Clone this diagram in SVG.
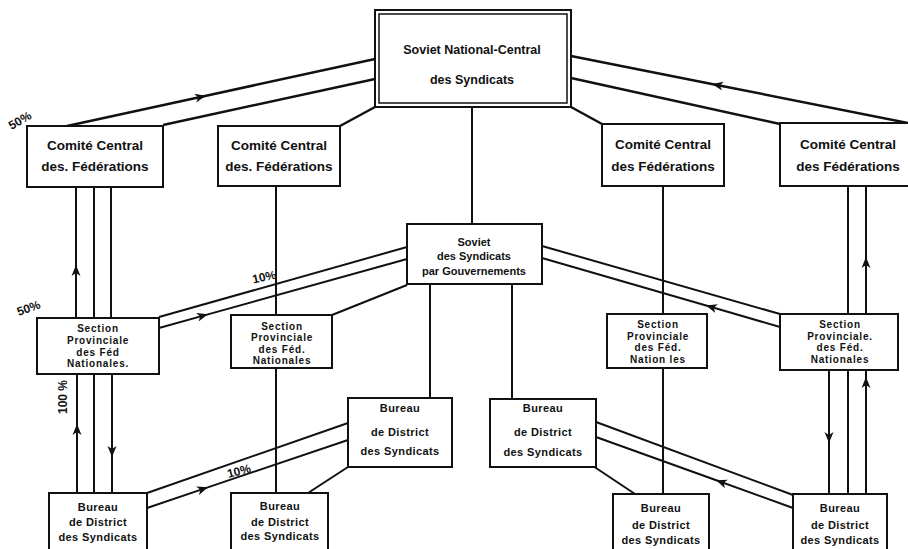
<svg xmlns="http://www.w3.org/2000/svg" width="908" height="549" viewBox="0 0 908 549">
<defs>
<style>
.box{fill:#fff;stroke:#111;stroke-width:2}
.ln{fill:none;stroke:#111;stroke-width:2}
.lt{fill:none;stroke:#111;stroke-width:2.5}
text{font-family:"Liberation Sans",Arial,sans-serif;font-weight:bold;fill:#111;text-anchor:middle}
.t1{font-size:12.5px}
.t2{font-size:13.5px}
.t3{font-size:11px}
.t4{font-size:10px;letter-spacing:0.8px}
.t5{font-size:11px;letter-spacing:0.4px}
.pc{font-size:12px}
</style>
<marker id="ah" markerUnits="userSpaceOnUse" markerWidth="14" markerHeight="10" refX="10" refY="5" orient="auto" viewBox="0 0 14 10">
<path d="M0,0.5 L11,5 L0,9.5 L3,5 z" fill="#111"/>
</marker>
</defs>
<rect width="908" height="549" fill="#fff"/>

<g id="connectors">
<!-- top level -->
<polyline class="lt" points="67,126 205,96 375,59" marker-mid="url(#ah)"/>
<line class="lt" x1="163" y1="125" x2="375" y2="79"/>
<line class="lt" x1="375" y1="107" x2="340" y2="126"/>
<polyline class="lt" points="908,123 713,84.2 571,56" marker-mid="url(#ah)"/>
<line class="lt" x1="571" y1="78" x2="780" y2="124"/>
<line class="lt" x1="571" y1="107" x2="602" y2="124"/>
<line class="ln" x1="472" y1="107" x2="472" y2="224"/>
<!-- left column -->
<polyline class="ln" points="76,318 76,266 76,187" marker-mid="url(#ah)"/>
<line class="ln" x1="94" y1="187" x2="94" y2="318"/>
<line class="ln" x1="111" y1="187" x2="111" y2="318"/>
<polyline class="ln" points="77,493 77,425 77,374" marker-mid="url(#ah)"/>
<line class="ln" x1="94" y1="374" x2="94" y2="493"/>
<polyline class="ln" points="112,374 112,456 112,493" marker-mid="url(#ah)"/>
<!-- section 1 to soviet gouv -->
<line class="ln" x1="159" y1="317" x2="407" y2="247"/>
<polyline class="ln" points="159,328 207,314.6 407,259" marker-mid="url(#ah)"/>
<line class="ln" x1="407" y1="285" x2="332" y2="315"/>
<!-- column 2 -->
<line class="ln" x1="276" y1="186" x2="276" y2="315"/>
<line class="ln" x1="276" y1="368" x2="276" y2="493"/>
<!-- soviet gouv down -->
<line class="ln" x1="430" y1="284" x2="430" y2="398"/>
<line class="ln" x1="512" y1="284" x2="512" y2="399"/>
<!-- soviet gouv to section 4 -->
<line class="ln" x1="542" y1="246" x2="780" y2="314"/>
<polyline class="ln" points="780,327 707,305.8 542,258" marker-mid="url(#ah)"/>
<!-- column 3 -->
<line class="ln" x1="663" y1="186" x2="663" y2="314"/>
<line class="ln" x1="663" y1="368" x2="663" y2="494"/>
<!-- right column -->
<line class="ln" x1="848" y1="186" x2="848" y2="314"/>
<polyline class="ln" points="866,314 866,258 866,186" marker-mid="url(#ah)"/>
<polyline class="ln" points="829,370 829,442 829,494" marker-mid="url(#ah)"/>
<line class="ln" x1="848" y1="370" x2="848" y2="494"/>
<polyline class="ln" points="866,494 866,378 866,370" marker-mid="url(#ah)"/>
<!-- bureau mid left to bureau 1 / 2 -->
<line class="ln" x1="147" y1="493" x2="348" y2="423"/>
<polyline class="ln" points="147,508 207,487.6 348,440" marker-mid="url(#ah)"/>
<line class="ln" x1="348" y1="467" x2="308" y2="493"/>
<!-- bureau mid right to bureau 3 / 4 -->
<line class="ln" x1="596" y1="422" x2="793" y2="495"/>
<polyline class="ln" points="793,508 717,480.5 596,437" marker-mid="url(#ah)"/>
<line class="ln" x1="593" y1="466" x2="635" y2="494"/>
</g>

<g id="labels">
<text class="pc" transform="translate(22,124) rotate(-30)">50%</text>
<text class="pc" transform="translate(30,312) rotate(-20)">50%</text>
<text class="pc" transform="translate(67,397) rotate(-90)">100 %</text>
<text class="pc" transform="translate(265,281) rotate(-12)">10%</text>
<text class="pc" transform="translate(240,475) rotate(-15)">10%</text>
</g>

<g id="soviet-national">
<rect x="375" y="10" width="196" height="97" fill="#fff" stroke="#111" stroke-width="2"/>
<rect x="379" y="14" width="188" height="89" fill="none" stroke="#111" stroke-width="1.5"/>
<text class="t1" x="472" y="54">Soviet National-Central</text>
<text class="t1" x="472" y="84">des Syndicats</text>
</g>

<g id="comite1">
<rect class="box" x="27" y="126" width="136" height="61"/>
<text class="t2" x="95" y="150">Comité Central</text>
<text class="t2" x="95" y="171">des. Fédérations</text>
</g>
<g id="comite2">
<rect class="box" x="218" y="126" width="122" height="60"/>
<text class="t2" x="279" y="150">Comité Central</text>
<text class="t2" x="279" y="171">des. Fédérations</text>
</g>
<g id="comite3">
<rect class="box" x="602" y="124" width="122" height="62"/>
<text class="t2" x="663" y="149">Comité Central</text>
<text class="t2" x="663" y="171">des Fédérations</text>
</g>
<g id="comite4">
<rect class="box" x="780" y="123" width="136" height="63"/>
<text class="t2" x="848" y="149">Comité Central</text>
<text class="t2" x="848" y="171">des Fédérations</text>
</g>

<g id="soviet-gouv">
<rect class="box" x="407" y="224" width="135" height="60"/>
<text class="t3" x="474" y="246">Soviet</text>
<text class="t3" x="474" y="260">des Syndicats</text>
<text class="t3" x="474" y="275">par Gouvernements</text>
</g>

<g id="section1">
<rect class="box" x="37" y="318" width="122" height="56"/>
<text class="t4" x="98" y="332">Section</text>
<text class="t4" x="98" y="344">Provinciale</text>
<text class="t4" x="98" y="356">des Féd</text>
<text class="t4" x="98" y="367">Nationales.</text>
</g>
<g id="section2">
<rect class="box" x="231" y="315" width="101" height="53"/>
<text class="t4" x="282" y="330">Section</text>
<text class="t4" x="282" y="341">Provinciale</text>
<text class="t4" x="282" y="353">des Féd.</text>
<text class="t4" x="282" y="364">Nationales</text>
</g>
<g id="section3">
<rect class="box" x="607" y="314" width="100" height="54"/>
<text class="t4" x="658" y="328">Section</text>
<text class="t4" x="658" y="340">Provinciale</text>
<text class="t4" x="658" y="351">des Féd.</text>
<text class="t4" x="658" y="363">Nation les</text>
</g>
<g id="section4">
<rect class="box" x="780" y="314" width="118" height="56"/>
<text class="t4" x="840" y="328">Section</text>
<text class="t4" x="840" y="340">Provinciale.</text>
<text class="t4" x="840" y="351">des Féd.</text>
<text class="t4" x="840" y="363">Nationales</text>
</g>

<g id="bureau-mid-left">
<rect class="box" x="348" y="398" width="104" height="69"/>
<text class="t5" x="400" y="412">Bureau</text>
<text class="t5" x="400" y="436">de District</text>
<text class="t5" x="400" y="455">des Syndicats</text>
</g>
<g id="bureau-mid-right">
<rect class="box" x="490" y="399" width="106" height="68"/>
<text class="t5" x="543" y="412">Bureau</text>
<text class="t5" x="543" y="436">de District</text>
<text class="t5" x="543" y="456">des Syndicats</text>
</g>

<g id="bureau1">
<rect class="box" x="49" y="493" width="98" height="70"/>
<text class="t5" x="98" y="511">Bureau</text>
<text class="t5" x="98" y="526">de District</text>
<text class="t5" x="98" y="541">des Syndicats</text>
</g>
<g id="bureau2">
<rect class="box" x="231" y="493" width="97" height="70"/>
<text class="t5" x="280" y="510">Bureau</text>
<text class="t5" x="280" y="526">de District</text>
<text class="t5" x="280" y="540">des Syndicats</text>
</g>
<g id="bureau3">
<rect class="box" x="613" y="494" width="96" height="70"/>
<text class="t5" x="661" y="512">Bureau</text>
<text class="t5" x="661" y="529">de District</text>
<text class="t5" x="661" y="544">des Syndicats</text>
</g>
<g id="bureau4">
<rect class="box" x="793" y="494" width="94" height="70"/>
<text class="t5" x="840" y="512">Bureau</text>
<text class="t5" x="840" y="529">de District</text>
<text class="t5" x="840" y="544">des Syndicats</text>
</g>
</svg>
